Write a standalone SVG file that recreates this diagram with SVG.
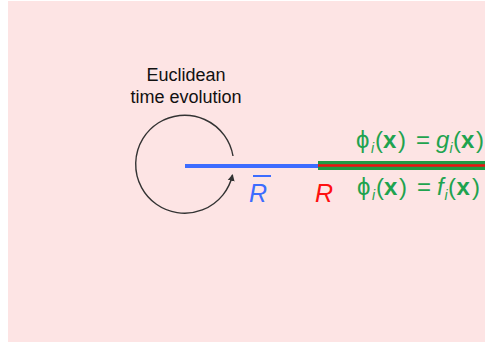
<svg xmlns="http://www.w3.org/2000/svg" width="485" height="342" viewBox="0 0 485 342">
<defs>
<marker id="ah" markerWidth="8" markerHeight="8" refX="6" refY="4" orient="auto" markerUnits="userSpaceOnUse">
<path d="M0,0.5 L7,4 L0,7.5 Z" fill="#333"/>
</marker>
<style>
.lbl{font-family:"Liberation Sans",Arial,sans-serif;fill:#111;font-size:18px}
.eq{font-family:"Liberation Sans",Arial,sans-serif;fill:#1fa34f;font-size:24px}
.sub{font-size:14px;font-style:italic}
</style>
</defs>
<rect x="0" y="0" width="485" height="342" fill="#ffffff"/>
<rect x="8" y="1" width="477" height="341" fill="#fde4e4"/>
<g id="connectors">
<path d="M233,156 A49,49 0 1 0 232.5,175" fill="none" stroke="#333" stroke-width="1.4" marker-end="url(#ah)"/>
<line x1="185" y1="166" x2="320" y2="166" stroke="#3d6cff" stroke-width="4"/>
<line x1="318" y1="165.5" x2="485" y2="165.5" stroke="#1f9a44" stroke-width="9"/>
<line x1="318" y1="165.5" x2="485" y2="165.5" stroke="#ee1111" stroke-width="2.5"/>
</g>
<g id="label-euclidean">
<text class="lbl" x="186" y="81" text-anchor="middle">Euclidean</text>
<text class="lbl" x="186" y="103" text-anchor="middle">time evolution</text>
</g>
<g id="label-rbar">
<text x="249" y="202" font-family="Liberation Sans,Arial,sans-serif" font-style="italic" font-size="25" fill="#3d6cff">R</text>
<line x1="253" y1="176" x2="271" y2="176" stroke="#3d6cff" stroke-width="2"/>
</g>
<g id="label-r">
<text x="315" y="202" font-family="Liberation Sans,Arial,sans-serif" font-style="italic" font-size="25" fill="#ff1010">R</text>
</g>
<g id="eq-top">
<text class="eq" y="148"><tspan x="356">ϕ</tspan><tspan class="sub" x="371" dy="5">i</tspan><tspan x="375" dy="-5">(</tspan><tspan x="383" font-weight="bold">x</tspan><tspan x="398">)</tspan><tspan x="416">=</tspan><tspan x="436" font-style="italic">g</tspan><tspan class="sub" x="449.5" dy="5">i</tspan><tspan x="453" dy="-5">(</tspan><tspan x="461" font-weight="bold">x</tspan><tspan x="476">)</tspan></text>
</g>
<g id="eq-bottom">
<text class="eq" y="195"><tspan x="357">ϕ</tspan><tspan class="sub" x="372" dy="5">i</tspan><tspan x="376" dy="-5">(</tspan><tspan x="384" font-weight="bold">x</tspan><tspan x="399">)</tspan><tspan x="417">=</tspan><tspan x="437" font-style="italic">f</tspan><tspan class="sub" x="444.5" dy="5">i</tspan><tspan x="448" dy="-5">(</tspan><tspan x="456.5" font-weight="bold">x</tspan><tspan x="472">)</tspan></text>
</g>
</svg>
